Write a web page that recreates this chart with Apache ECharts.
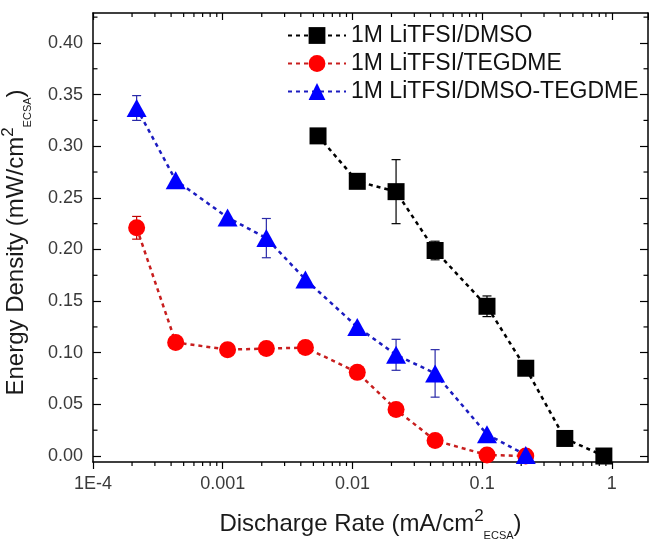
<!DOCTYPE html>
<html>
<head>
<meta charset="utf-8">
<script src="https://cdn.jsdelivr.net/npm/echarts@6/dist/echarts.min.js"></script>
<style>
html,body{margin:0;padding:0;background:#fff;}
#chart{width:649px;height:540px;}
</style>
</head>
<body>
<div id="chart"></div>
<script>
// ---- data ----
const seriesNames = ['1M LiTFSI/DMSO', '1M LiTFSI/TEGDME', '1M LiTFSI/DMSO-TEGDME'];

const rateDMSO = [0.00543, 0.0109, 0.0217, 0.0434, 0.109, 0.217, 0.434, 0.868];
const energyDMSO = [0.310, 0.266, 0.256, 0.199, 0.145, 0.085, 0.017, 0.000];
const errDMSO = [0, 0, 0.031, 0.009, 0.010, 0, 0, 0];

const rateTEGDME = [0.000217, 0.000434, 0.00109, 0.00217, 0.00434, 0.0109, 0.0217, 0.0434, 0.109, 0.217];
const energyTEGDME = [0.221, 0.110, 0.103, 0.104, 0.105, 0.081, 0.045, 0.015, 0.001, 0.000];
const errTEGDME = [0.011, 0, 0, 0, 0, 0, 0, 0, 0, 0];

const rateMix = [0.000217, 0.000434, 0.00109, 0.00217, 0.00434, 0.0109, 0.0217, 0.0434, 0.109, 0.217];
const energyMix = [0.337, 0.267, 0.231, 0.211, 0.171, 0.125, 0.098, 0.080, 0.021, 0.001];
const errMix = [0.012, 0, 0, 0.019, 0, 0, 0.015, 0.023, 0, 0];

const xTickValues = [0.0001, 0.001, 0.01, 0.1, 1];
const xTickLabels = ['1E-4', '0.001', '0.01', '0.1', '1'];
const xMinorMantissas = [2, 3, 4, 5, 6, 7, 8, 9];
const xMinorDecades = [0.0001, 0.001, 0.01, 0.1];
const yTickValues = [0, 0.05, 0.10, 0.15, 0.20, 0.25, 0.30, 0.35, 0.40];
const yMinorValues = [0.025, 0.075, 0.125, 0.175, 0.225, 0.275, 0.325, 0.375, 0.425];

// ---- build ----
const xMinorValues = [];
xMinorDecades.forEach(d => xMinorMantissas.forEach(m => xMinorValues.push(+(m * d).toPrecision(3))));

function pairs(xs, ys) { return xs.map((x, i) => [x, ys[i]]); }
function errData(xs, ys, es) {
  const out = [];
  xs.forEach((x, i) => { if (es[i] > 0) out.push([x, ys[i], es[i]]); });
  return out;
}
function errRender(color) {
  return function (params, api) {
    const x = api.value(0), y = api.value(1), e = api.value(2);
    const t = api.coord([x, y + e]);
    const b = api.coord([x, y - e]);
    const hw = 4.5;
    const st = { stroke: color, lineWidth: 1.2 };
    return {
      type: 'group',
      children: [
        { type: 'line', shape: { x1: t[0], y1: t[1], x2: b[0], y2: b[1] }, style: st },
        { type: 'line', shape: { x1: t[0] - hw, y1: t[1], x2: t[0] + hw, y2: t[1] }, style: st },
        { type: 'line', shape: { x1: b[0] - hw, y1: b[1], x2: b[0] + hw, y2: b[1] }, style: st }
      ]
    };
  };
}
function minorTickRender(params, api) {
  const cs = params.coordSys;
  const st = { stroke: '#000', lineWidth: 1.2 };
  const kids = [];
  const bottom = cs.y + cs.height, top = cs.y, left = cs.x, right = cs.x + cs.width;
  xMinorValues.forEach(v => {
    const px = api.coord([v, 0.1])[0];
    if (px < left || px > right) return;
    kids.push({ type: 'line', shape: { x1: px, y1: bottom, x2: px, y2: bottom + 4 }, style: st });
    kids.push({ type: 'line', shape: { x1: px, y1: top, x2: px, y2: top + 4 }, style: st });
  });
  yMinorValues.forEach(v => {
    const py = api.coord([0.001, v])[1];
    kids.push({ type: 'line', shape: { x1: left, y1: py, x2: left + 4.5, y2: py }, style: st });
    kids.push({ type: 'line', shape: { x1: right, y1: py, x2: right - 4.5, y2: py }, style: st });
  });
  return { type: 'group', children: kids };
}

const FONT = 'Liberation Sans, Arial, sans-serif';
const X_MIN = 0.0001, X_MAX = 1.9, Y_MIN = -0.0058, Y_MAX = 0.429;
const axisLine = { show: true, onZero: false, lineStyle: { color: '#000', width: 1.5 } };

const lineCommon = { type: [4, 4], width: 2.5 };

function titleStyle(extra) {
  return Object.assign({
    fontFamily: FONT, fontSize: 24, color: '#1a1a1a', lineHeight: 33,
    rich: {
      sup: { fontFamily: FONT, fontSize: 17, color: '#1a1a1a', lineHeight: 27, verticalAlign: 'top' },
      sub: { fontFamily: FONT, fontSize: 11, color: '#1a1a1a', lineHeight: 11, verticalAlign: 'bottom' }
    }
  }, extra || {});
}

const option = {
  backgroundColor: '#fff',
  animation: false,
  grid: { left: 93, right: 1, top: 13, bottom: 78, containLabel: false, outerBoundsMode: 'none' },
  legend: {
    data: seriesNames,
    left: 287, top: 24, padding: 0,
    orient: 'vertical',
    itemWidth: 58, itemHeight: 21, itemGap: 5,
    textStyle: { fontFamily: FONT, fontSize: 23, color: '#111' }
  },
  xAxis: [
    {
      type: 'log', logBase: 10, min: X_MIN, max: X_MAX, position: 'bottom',
      name: 'Discharge Rate (mA/cm{sup|2}{sub|ECSA})',
      nameLocation: 'middle', nameGap: 46,
      nameTextStyle: titleStyle(),
      axisLine: axisLine,
      axisTick: { show: true, inside: false, length: 7, lineStyle: { color: '#000', width: 1.2 } },
      axisLabel: {
        show: true, margin: 13, fontFamily: FONT, fontSize: 18, color: '#3a3a3a',
        showMaxLabel: false,
        formatter: function (v) {
          for (let i = 0; i < xTickValues.length; i++) {
            if (Math.abs(Math.log10(v) - Math.log10(xTickValues[i])) < 1e-6) return xTickLabels[i];
          }
          return '';
        }
      },
      splitLine: { show: false }, minorTick: { show: false }
    },
    {
      type: 'log', logBase: 10, min: X_MIN, max: X_MAX, position: 'top',
      axisLine: axisLine,
      axisTick: { show: true, inside: true, length: 7, lineStyle: { color: '#000', width: 1.2 } },
      axisLabel: { show: false },
      splitLine: { show: false }
    }
  ],
  yAxis: [
    {
      type: 'value', min: Y_MIN, max: Y_MAX, position: 'left',
      name: 'Energy Density (mW/cm{sup|2}{sub|ECSA})',
      nameLocation: 'middle', nameGap: 60,
      nameTextStyle: titleStyle({ padding: [0, 10, 0, 0] }),
      axisLine: axisLine,
      axisTick: { show: true, inside: true, length: 8, customValues: yTickValues, lineStyle: { color: '#000', width: 1.2 } },
      axisLabel: {
        show: true, margin: 10, fontFamily: FONT, fontSize: 18, color: '#3a3a3a',
        customValues: yTickValues,
        formatter: function (v) { return v.toFixed(2); }
      },
      splitLine: { show: false }
    },
    {
      type: 'value', min: Y_MIN, max: Y_MAX, position: 'right',
      axisLine: axisLine,
      axisTick: { show: true, inside: true, length: 8, customValues: yTickValues, lineStyle: { color: '#000', width: 1.2 } },
      axisLabel: { show: false },
      splitLine: { show: false }
    }
  ],
  series: [
    {
      type: 'custom', name: 'minorTicks', silent: true, clip: false, z: 1,
      renderItem: minorTickRender, data: [[0.001, 0.1]],
      encode: { x: 0, y: 1 }
    },
    {
      type: 'custom', name: 'errDMSO', silent: true, z: 2,
      renderItem: errRender('#000000'), data: errData(rateDMSO, energyDMSO, errDMSO), encode: { x: 0, y: 1 }
    },
    {
      type: 'custom', name: 'errTEGDME', silent: true, z: 2,
      renderItem: errRender('#c00000'), data: errData(rateTEGDME, energyTEGDME, errTEGDME), encode: { x: 0, y: 1 }
    },
    {
      type: 'custom', name: 'errMix', silent: true, z: 2,
      renderItem: errRender('#2a2aa8'), data: errData(rateMix, energyMix, errMix), encode: { x: 0, y: 1 }
    },
    {
      type: 'line', name: seriesNames[0], data: pairs(rateDMSO, energyDMSO), z: 3,
      symbol: 'rect', symbolSize: 17,
      itemStyle: { color: '#000000' },
      lineStyle: Object.assign({ color: '#000000' }, lineCommon)
    },
    {
      type: 'line', name: seriesNames[1], data: pairs(rateTEGDME, energyTEGDME), z: 3,
      symbol: 'circle', symbolSize: 17,
      itemStyle: { color: '#ff0000' },
      lineStyle: Object.assign({ color: '#c81e1e' }, lineCommon)
    },
    {
      type: 'line', name: seriesNames[2], data: pairs(rateMix, energyMix), z: 4,
      symbol: 'triangle', symbolSize: [20, 18],
      itemStyle: { color: '#0000ff' },
      lineStyle: Object.assign({ color: '#1c1cc0' }, lineCommon)
    }
  ]
};

const chart = echarts.init(document.getElementById('chart'), null, { renderer: 'canvas' });
chart.setOption(option);
</script>
</body>
</html>
